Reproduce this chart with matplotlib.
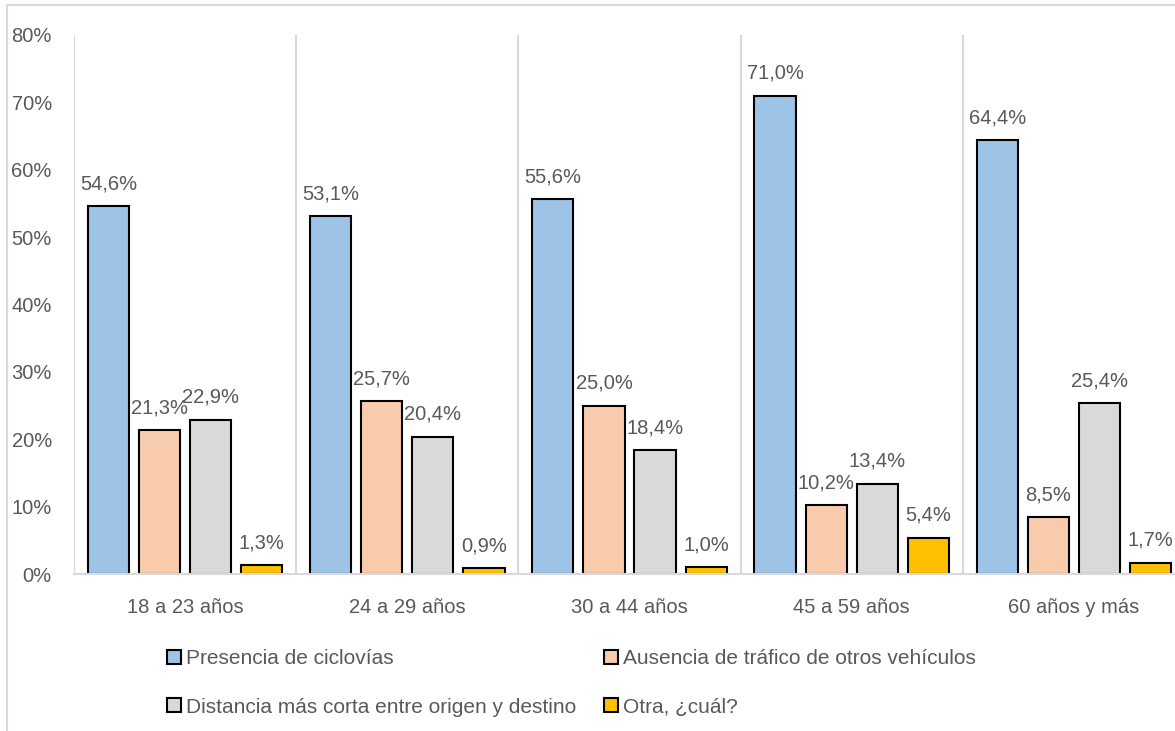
import numpy as np
import matplotlib.pyplot as plt
from matplotlib.lines import Line2D
from matplotlib.patches import Patch

plt.rcParams['font.family'] = ['Liberation Sans', 'DejaVu Sans']

# Data
categories = ['18 a 23 años', '24 a 29 años', '30 a 44 años', '45 a 59 años', '60 años y más']
series_names = ['Presencia de ciclovías',
                'Ausencia de tráfico de otros vehículos',
                'Distancia más corta entre origen y destino',
                'Otra, ¿cuál?']
presencia = [54.6, 53.1, 55.6, 71.0, 64.4]
ausencia = [21.3, 25.7, 25.0, 10.2, 8.5]
distancia = [22.9, 20.4, 18.4, 13.4, 25.4]
otra = [1.3, 0.9, 1.0, 5.4, 1.7]
yticks = [0, 10, 20, 30, 40, 50, 60, 70, 80]

colors = ['#9DC3E6', '#F8CBAD', '#D9D9D9', '#FFC000']
text_col = '#595959'
grid_col = '#D9D9D9'

W, H = 1175, 731
fig = plt.figure(figsize=(W / 100, H / 100), dpi=100)
ax = fig.add_axes([74 / W, 1 - 574 / H, (1185 - 74) / W, (574 - 35) / H])

x = np.arange(len(categories))
bar_w = 0.185
step = 0.23
offsets = [-1.5 * step, -0.5 * step, 0.5 * step, 1.5 * step]
all_series = [presencia, ausencia, distancia, otra]

for vals, off, col, name in zip(all_series, offsets, colors, series_names):
    ax.bar(x + off, vals, width=bar_w, color=col, edgecolor='black',
           linewidth=1.5, label=name, zorder=3)
    for xi, v in zip(x + off, vals):
        ax.annotate(f'{v:.1f}%'.replace('.', ','), (xi, v), xytext=(0, 16),
                    textcoords='offset points', ha='center', va='center',
                    fontsize=14.5, color=text_col, zorder=4)

ax.set_xlim(-0.5, len(categories) - 0.5)
ax.set_ylim(0, 80)
ax.set_yticks(yticks)
ax.set_yticklabels([f'{t}%' for t in yticks], fontsize=14.5, color=text_col)
ax.set_xticks(x)
ax.set_xticklabels(categories, fontsize=14.5, color=text_col)
ax.tick_params(axis='both', length=0)
ax.tick_params(axis='y', pad=16)
ax.tick_params(axis='x', pad=17.5)

# vertical gridlines between categories
for b in np.arange(-0.5, len(categories), 1.0):
    ax.axvline(b, color=grid_col, linewidth=1.5, zorder=1)

for s in ['top', 'right', 'left']:
    ax.spines[s].set_visible(False)
ax.spines['bottom'].set_color(grid_col)
ax.spines['bottom'].set_linewidth(1.5)
ax.spines['bottom'].set_zorder(5)

# legend: row 1 Presencia / Ausencia, row 2 Distancia / Otra
handles = [Patch(facecolor=c, edgecolor='black', linewidth=1.5) for c in colors]
order = [0, 2, 1, 3]
fig.legend([handles[i] for i in order], [series_names[i] for i in order],
           ncol=2, loc='upper left', bbox_to_anchor=(159 / W, 1 - 641 / H),
           frameon=False, fontsize=15, labelcolor=text_col,
           handlelength=0.67, handleheight=0.67, handletextpad=0.24,
           columnspacing=1.3, labelspacing=1.41, borderaxespad=0)

# chart-area border remnants
fig.add_artist(Line2D([7 / W, 1], [1 - 5 / H, 1 - 5 / H], color=grid_col, linewidth=1.5))
fig.add_artist(Line2D([7 / W, 7 / W], [0, 1 - 5 / H], color=grid_col, linewidth=1.5))

fig.savefig('out.png', dpi=100)
